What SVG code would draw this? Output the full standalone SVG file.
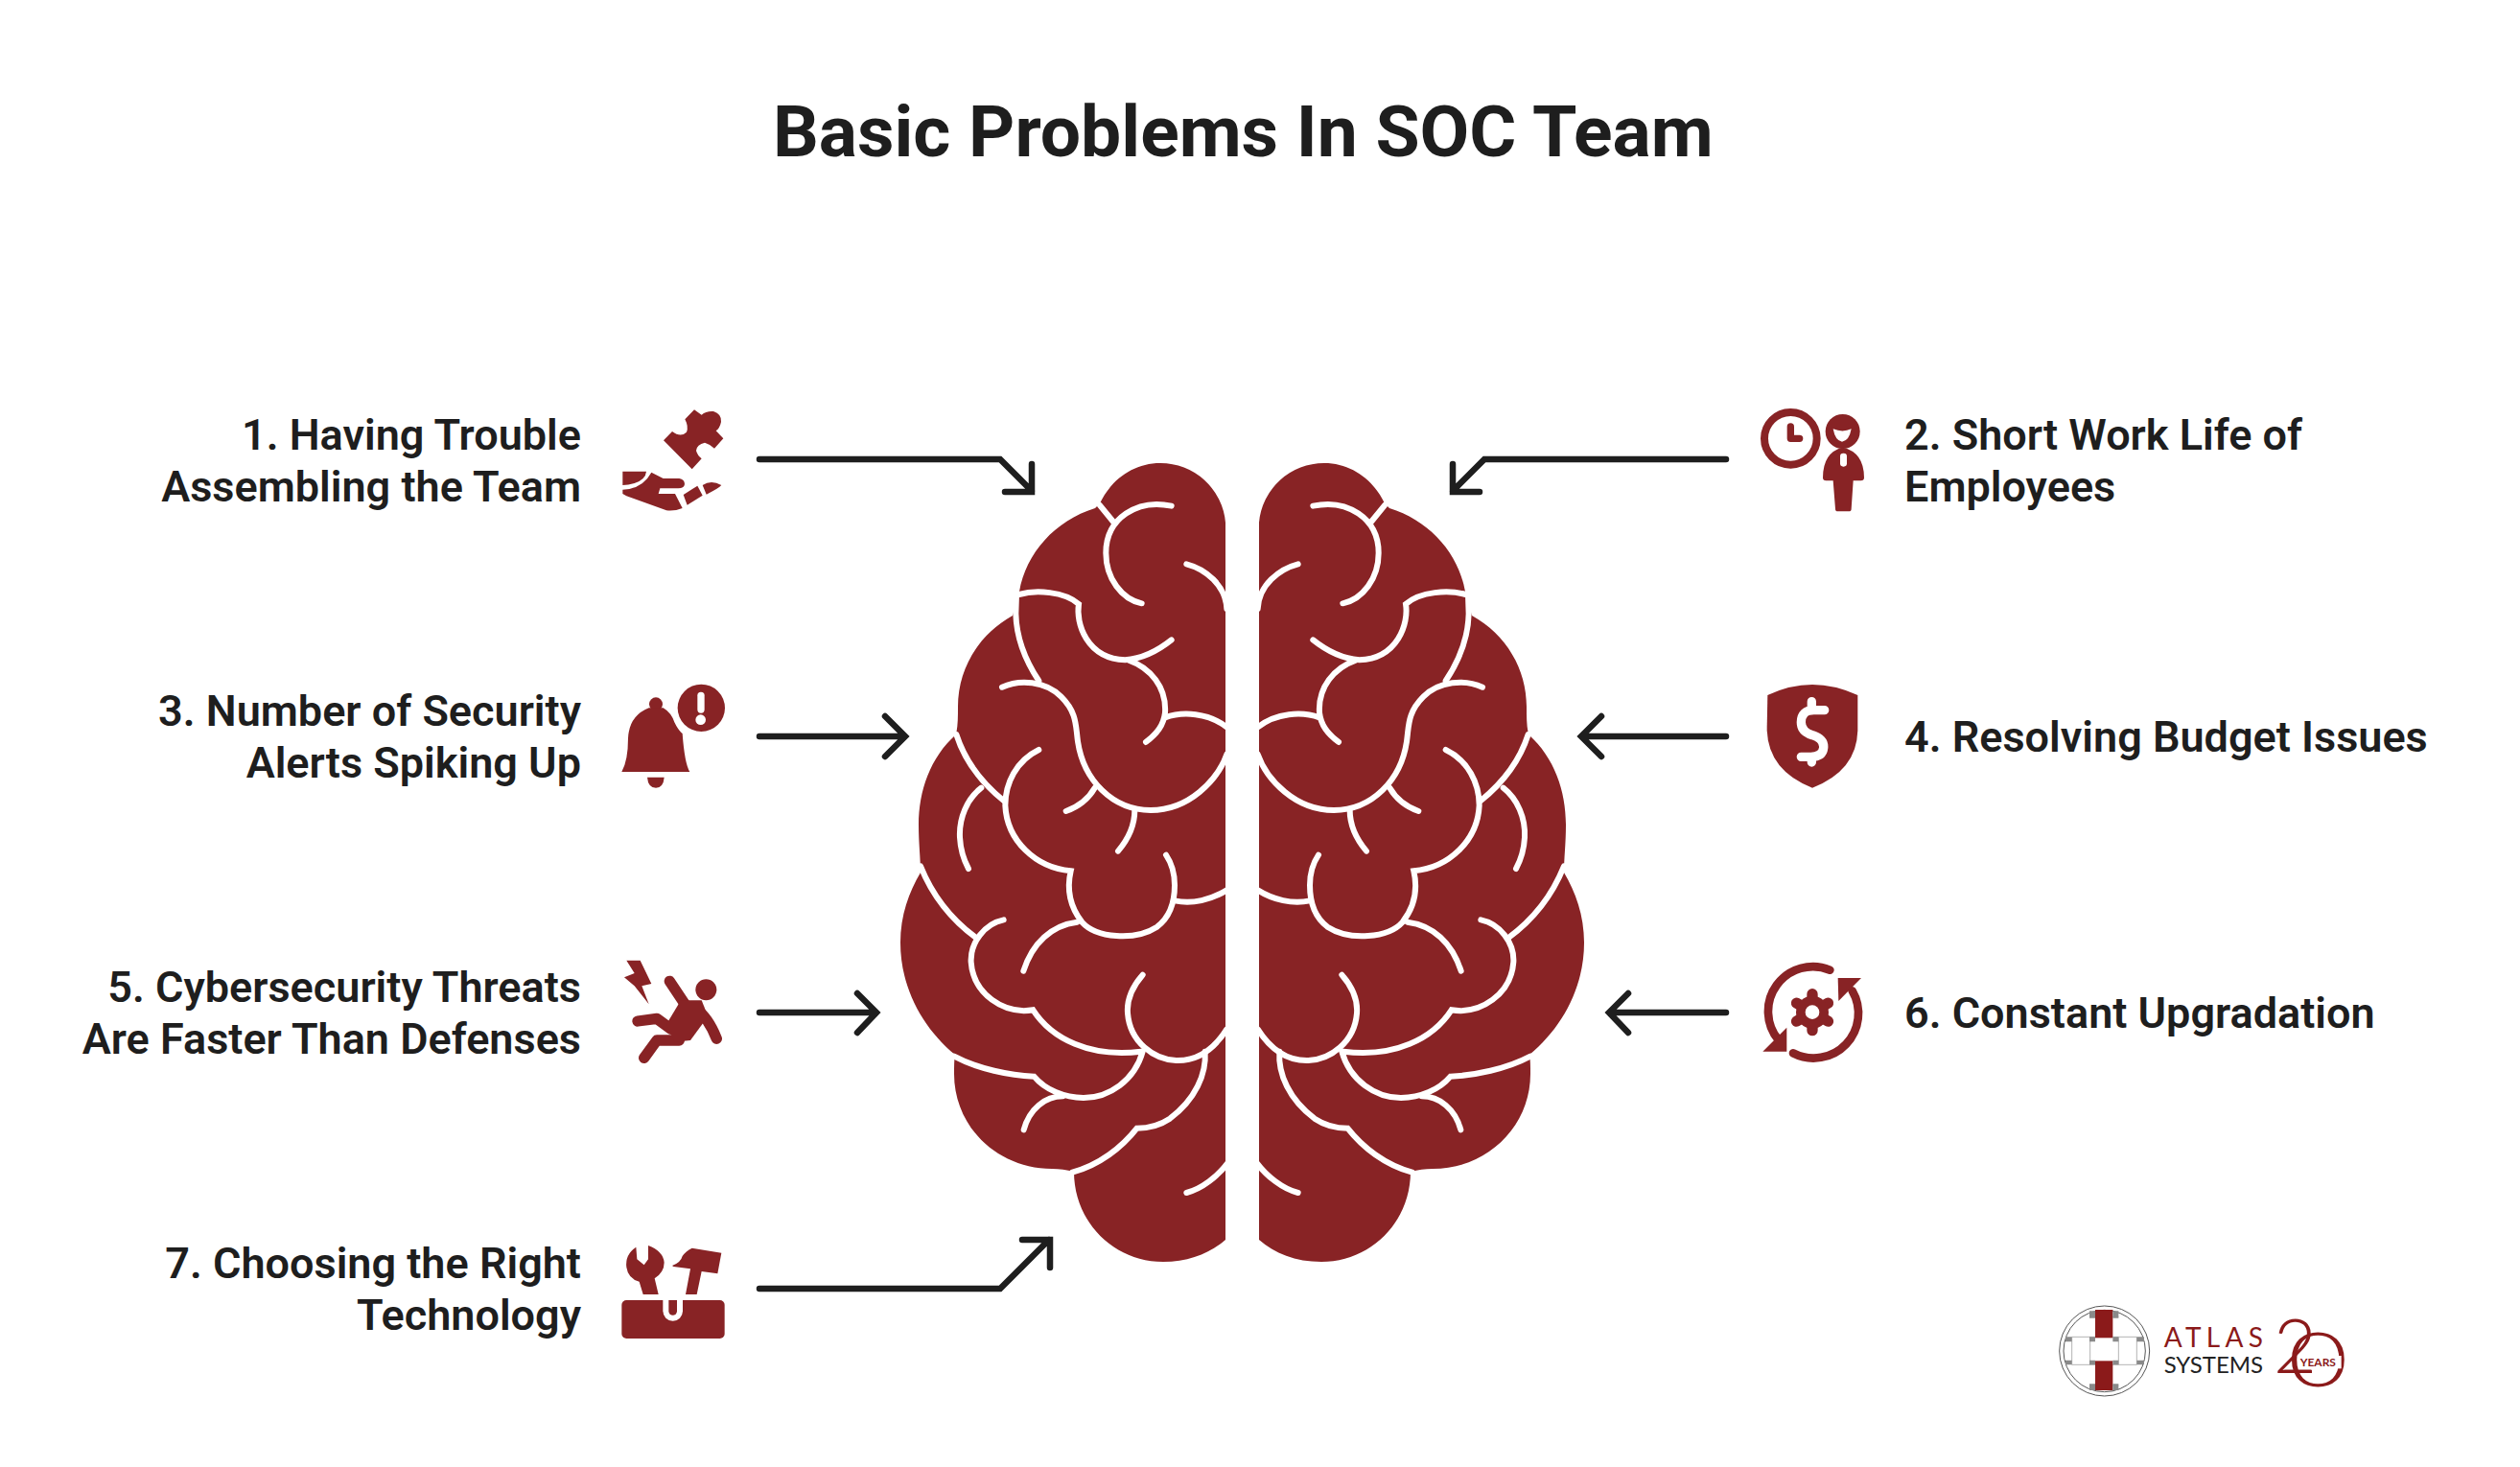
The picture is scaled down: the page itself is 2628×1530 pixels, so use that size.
<svg xmlns="http://www.w3.org/2000/svg" width="2628" height="1530" viewBox="0 0 2628 1530">
<style>
.title{font:700 75px Roboto,sans-serif;fill:#1e1e1e}
.lab{font:600 45px Roboto,sans-serif;fill:#1e1e1e}
.r{text-anchor:end}
.arrow{fill:none;stroke:#1e1e1e;stroke-width:6.500;stroke-linecap:round;stroke-linejoin:miter}
.red{fill:#882325}
.wl{fill:none;stroke:#fff;stroke-width:18;stroke-linecap:round;stroke-linejoin:miter}
.ink{fill:none;stroke:#882325;stroke-linecap:round;stroke-linejoin:round}
.gr{fill:#8a8a8a}
.thin{fill:none;stroke:#b5b5b5}
</style>
<defs>
<g id="hemi">
<path class="red" d="M1278,545 A68,68 0 0 0 1210,483 C1182,483 1159,500 1147,525 L1142,530 C1100,543 1070,577 1063,617 L1056,642 C1020,662 999,698 999,737 C999,748 999,757 997,766 C970,790 958,825 958,860 C958,880 960,895 960,910 C948,930 939,955 939,983 C939,1030 962,1072 996,1100 C995,1105 995,1112 995,1120 C995,1175 1040,1219 1097,1219 C1105,1219 1112,1220 1120,1222 C1120,1275 1162,1316 1213,1316 C1240,1316 1262,1307 1278,1293 Z"/>
<g transform="translate(920,460) scale(.33333)" class="wl">
<path d="M680,200 L725,255"/>
<path d="M905,203 C800,180 700,240 700,350 C700,430 750,495 812,508"/>
<path d="M952,385 C1010,400 1075,450 1078,525"/>
<path d="M428,480 C480,465 570,470 615,510 C605,570 640,680 760,685 C820,680 870,650 905,622"/>
<path d="M420,480 L418,540 C420,620 450,690 490,750"/>
<path d="M375,770 C430,745 510,750 560,800 C610,850 605,890 612,940 C630,1060 720,1155 840,1155 C960,1155 1050,1060 1078,980"/>
<path d="M770,685 C840,710 890,770 885,850 C880,890 860,915 825,942"/>
<path d="M885,865 C940,845 1020,850 1078,895"/>
<path d="M232,918 C255,990 300,1060 380,1125"/>
<path d="M490,966 C420,1000 385,1070 385,1140 C390,1250 480,1335 590,1345 C575,1410 590,1460 625,1505 C670,1555 790,1565 860,1520 C900,1490 915,1440 915,1390 C915,1350 905,1320 888,1295"/>
<path d="M310,1085 C265,1120 240,1180 243,1240 C245,1280 255,1310 270,1338"/>
<path d="M575,1158 C610,1145 645,1120 665,1085"/>
<path d="M790,1155 C790,1200 770,1245 738,1283"/>
</g>
<g transform="translate(920,880) scale(.33333)" class="wl">
<path d="M915,178 C970,190 1030,175 1078,145"/>
<path d="M120,70 C160,170 220,240 295,295"/>
<path d="M380,238 C320,250 275,310 278,370 C285,470 380,535 472,520 C530,610 650,670 810,650"/>
<path d="M610,245 C530,255 470,310 442,398"/>
<path d="M815,410 C780,450 765,490 768,530 C775,620 850,675 920,678 C990,680 1040,640 1078,580"/>
<path d="M225,665 C300,705 400,725 475,728 C510,770 570,795 630,795 C710,795 790,740 815,650"/>
<path d="M565,790 C510,790 460,830 443,895"/>
<path d="M1010,650 C1015,720 980,800 900,860 C870,880 840,890 797,890 C750,950 680,1005 595,1028"/>
<path d="M952,1092 C1000,1080 1050,1040 1080,1000"/>
</g>
</g>
</defs>
<rect width="2628" height="1530" fill="#fff"/>
<text class="title" x="806" y="163">Basic Problems In SOC Team</text>
<g id="brain">
<use href="#hemi"/>
<use href="#hemi" transform="translate(2591,0) scale(-1,1)"/>
</g>
<g id="connectors">
<path class="arrow" d="M792,479 H1043 L1076,512 M1076,484 V513 H1048"/>
<path class="arrow" d="M792,768 H943 M923,747 L944,768 L923,789"/>
<path class="arrow" d="M792,1056 H912 M894,1036 L914,1056 L894,1077"/>
<path class="arrow" d="M792,1344 H1043 L1094,1293 M1066,1293 H1095 V1322"/>
<path class="arrow" d="M1800,479 H1548 L1515,512 M1515,484 V513 H1543"/>
<path class="arrow" d="M1800,768 H1650 M1670,747 L1649,768 L1670,789"/>
<path class="arrow" d="M1800,1056 H1680 M1698,1036 L1678,1056 L1698,1077"/>
</g>
<g id="n1">
<text class="lab r"><tspan x="606" y="469">1. Having Trouble</tspan><tspan x="606" y="523">Assembling the Team</tspan></text>
<g transform="translate(620,400) scale(.33333)" class="red">
<path d="M216,178 L243,150 Q270,170 288,152 Q295,135 283,112 L312,82 L335,98 Q350,85 372,87 Q398,95 396,120 Q392,140 380,148 L403,172 L375,203 Q362,190 345,185 Q320,190 318,210 Q322,225 335,235 L305,268 Z"/>
<path d="M88,275 H162 Q160,300 125,312 Q105,318 88,318 Z"/>
<path d="M88,332 Q150,330 178,278 L215,297 H265 Q282,300 282,315 Q280,328 262,328 H205 L200,345 H252 L275,390 Q250,400 225,397 L100,352 L88,345 Z"/>
<path d="M278,348 L322,320 L338,350 L290,380 Z"/>
<path d="M338,318 Q365,300 397,318 Q385,330 350,347 Z"/>
</g>
</g>
<g id="n2">
<text class="lab"><tspan x="1986" y="469">2. Short Work Life of</tspan><tspan x="1986" y="523">Employees</tspan></text>
<g transform="translate(1810,400) scale(.33333)">
<circle cx="172" cy="172" r="82" fill="none" stroke="#882325" stroke-width="24"/>
<path class="ink" stroke-width="22" d="M172,135 V172 H200"/>
<circle class="red" cx="335" cy="150" r="54"/>
<path fill="#fff" d="M305,142 Q335,155 362,142 Q355,180 333,182 Q312,180 305,142Z"/>
<path class="red" d="M335,200 Q402,215 402,295 Q402,304 392,304 H368 L362,392 Q362,400 354,400 H320 Q312,400 312,392 L305,304 H283 Q273,304 273,295 Q273,215 335,200Z"/>
<rect x="327" y="218" width="21" height="42" rx="10" fill="#fff"/>
</g>
</g>
<g id="n3">
<text class="lab r"><tspan x="606" y="757">3. Number of Security</tspan><tspan x="606" y="811">Alerts Spiking Up</tspan></text>
<g transform="translate(620,400) scale(.33333)" class="red">
<circle cx="192" cy="1003" r="21"/>
<path d="M85,1215 Q105,1180 105,1110 Q108,1040 170,1015 H215 Q240,1030 250,1060 Q262,1085 275,1095 Q282,1190 298,1215 Z"/>
<path d="M165,1232 H218 Q215,1265 192,1265 Q168,1265 165,1232Z"/>
<circle cx="334" cy="1015" r="74"/>
<rect x="322" y="965" width="22" height="66" rx="11" fill="#fff"/>
<circle cx="332" cy="1052" r="16" fill="#fff"/>
</g>
</g>
<g id="n4">
<text class="lab" x="1986" y="784">4. Resolving Budget Issues</text>
<g transform="translate(1810,400) scale(.33333)">
<path class="red" d="M100,975 Q170,942 240,942 Q310,942 382,975 V1080 Q382,1210 240,1265 Q100,1210 98,1080 Z"/>
<path d="M278,1022 H245 Q205,1022 205,1060 Q205,1090 240,1100 Q278,1112 275,1140 Q272,1168 235,1168 H205 M238,995 V1022 M238,1168 V1185" fill="none" stroke="#fff" stroke-width="28" stroke-linecap="round"/>
</g>
</g>
<g id="n5">
<text class="lab r"><tspan x="606" y="1045">5. Cybersecurity Threats</tspan><tspan x="606" y="1099">Are Faster Than Defenses</tspan></text>
<g transform="translate(620,960) scale(.33333)">
<circle class="red" cx="349" cy="217" r="33"/>
<path class="red" d="M100,125 L143,125 L178,198 L148,205 L170,262 L125,205 L93,178 L125,165 Z"/>
<path class="ink" stroke-width="34" d="M235,190 L285,265 M320,280 C350,300 370,340 382,370 M135,315 L195,307 L240,340 M155,430 L195,375 L265,375"/>
<path class="red" d="M270,250 L335,250 L355,300 L300,375 L250,380 L225,325 Z"/>
</g>
</g>
<g id="n6">
<text class="lab" x="1986" y="1072">6. Constant Upgradation</text>
<g transform="translate(1810,970) scale(.33333)">
<path class="ink" stroke-width="26" d="M295,125 A140,140 0 0 0 135,345"/>
<path class="ink" stroke-width="26" d="M180,385 A140,140 0 0 0 365,190"/>
<path class="red" d="M160,305 V380 H85 Z"/>
<path class="red" d="M320,150 H393 L322,222 Z"/>
<g stroke="#882325" stroke-width="34" stroke-linecap="round">
<path d="M240,200 V314 M190.600,228.500 L289.400,285.500 M190.600,285.500 L289.400,228.500"/>
</g>
<circle cx="240" cy="257" r="36" fill="none" stroke="#882325" stroke-width="30"/>
<circle cx="240" cy="257" r="22" fill="#fff"/>
</g>
</g>
<g id="n7">
<text class="lab r"><tspan x="606" y="1333">7. Choosing the Right</tspan><tspan x="606" y="1387">Technology</tspan></text>
<g transform="translate(620,960) scale(.33333)" class="red">
<path d="M130,1022 Q95,1045 100,1085 Q105,1120 140,1130 L152,1170 H200 L188,1120 Q218,1100 218,1070 Q215,1035 168,1017 V1060 L155,1078 L133,1060 Z"/>
<path d="M243,1080 Q270,1070 275,1050 Q285,1035 305,1025 L397,1040 L385,1105 L335,1098 L320,1170 H285 L300,1090 L247,1083 Z"/>
<rect x="85" y="1188" width="322" height="120" rx="15"/>
<path fill="#fff" d="M214,1188 H276 V1222 A31,31 0 0 1 214,1222 Z"/>
<path d="M232,1188 H258 V1222 A13,13 0 0 1 232,1222 Z"/>
</g>
</g>
<g id="logo" transform="translate(2130,1340) scale(.33333)">
<circle cx="194" cy="207" r="141" fill="none" stroke="#555" stroke-width="3"/>
<circle cx="194" cy="207" r="128" fill="none" stroke="#555" stroke-width="3"/>
<path class="thin" stroke-width="3" d="M92,163 H295 M92,250 H295 M92,163 V250 M295,163 V250 M149,163 V250 M238,163 V250 M150,100 H238 M150,315 H238"/>
<rect x="165" y="78" width="55" height="88" fill="#8b1a1a"/>
<rect x="165" y="238" width="55" height="92" fill="#8b1a1a"/>
<path class="gr" d="M147,82 H165 V104 H147Z M220,82 H238 V104 H220Z M147,163 H165 V178 H147Z M220,163 H238 V178 H220Z M147,236 H165 V250 H147Z M220,236 H238 V250 H220Z M72,163 H92 V178 H72Z M295,163 H318 V178 H295Z M72,236 H92 V250 H72Z M295,236 H318 V250 H295Z M147,310 H165 V330 H147Z M220,310 H238 V330 H220Z"/>
<text x="380" y="195" font-family="Lato,sans-serif" font-size="84" letter-spacing="16" fill="#8b1a1a">ATLAS</text>
<text x="380" y="277" font-family="Lato,sans-serif" font-size="72" fill="#222">SYSTEMS</text>
<text x="722" y="276" font-family="Lato,sans-serif" font-weight="300" font-size="235" fill="#8b1a1a">2</text>
<text x="0" y="318" font-family="Lato,sans-serif" font-weight="300" font-size="235" fill="#8b1a1a" transform="translate(768,0) scale(1.38,1)">0</text>
<rect x="803" y="222" width="132" height="40" fill="#fff"/>
<text x="806" y="256" font-family="Lato,sans-serif" font-weight="700" font-size="36" fill="#8b1a1a">YEARS</text>
</g>
</svg>
